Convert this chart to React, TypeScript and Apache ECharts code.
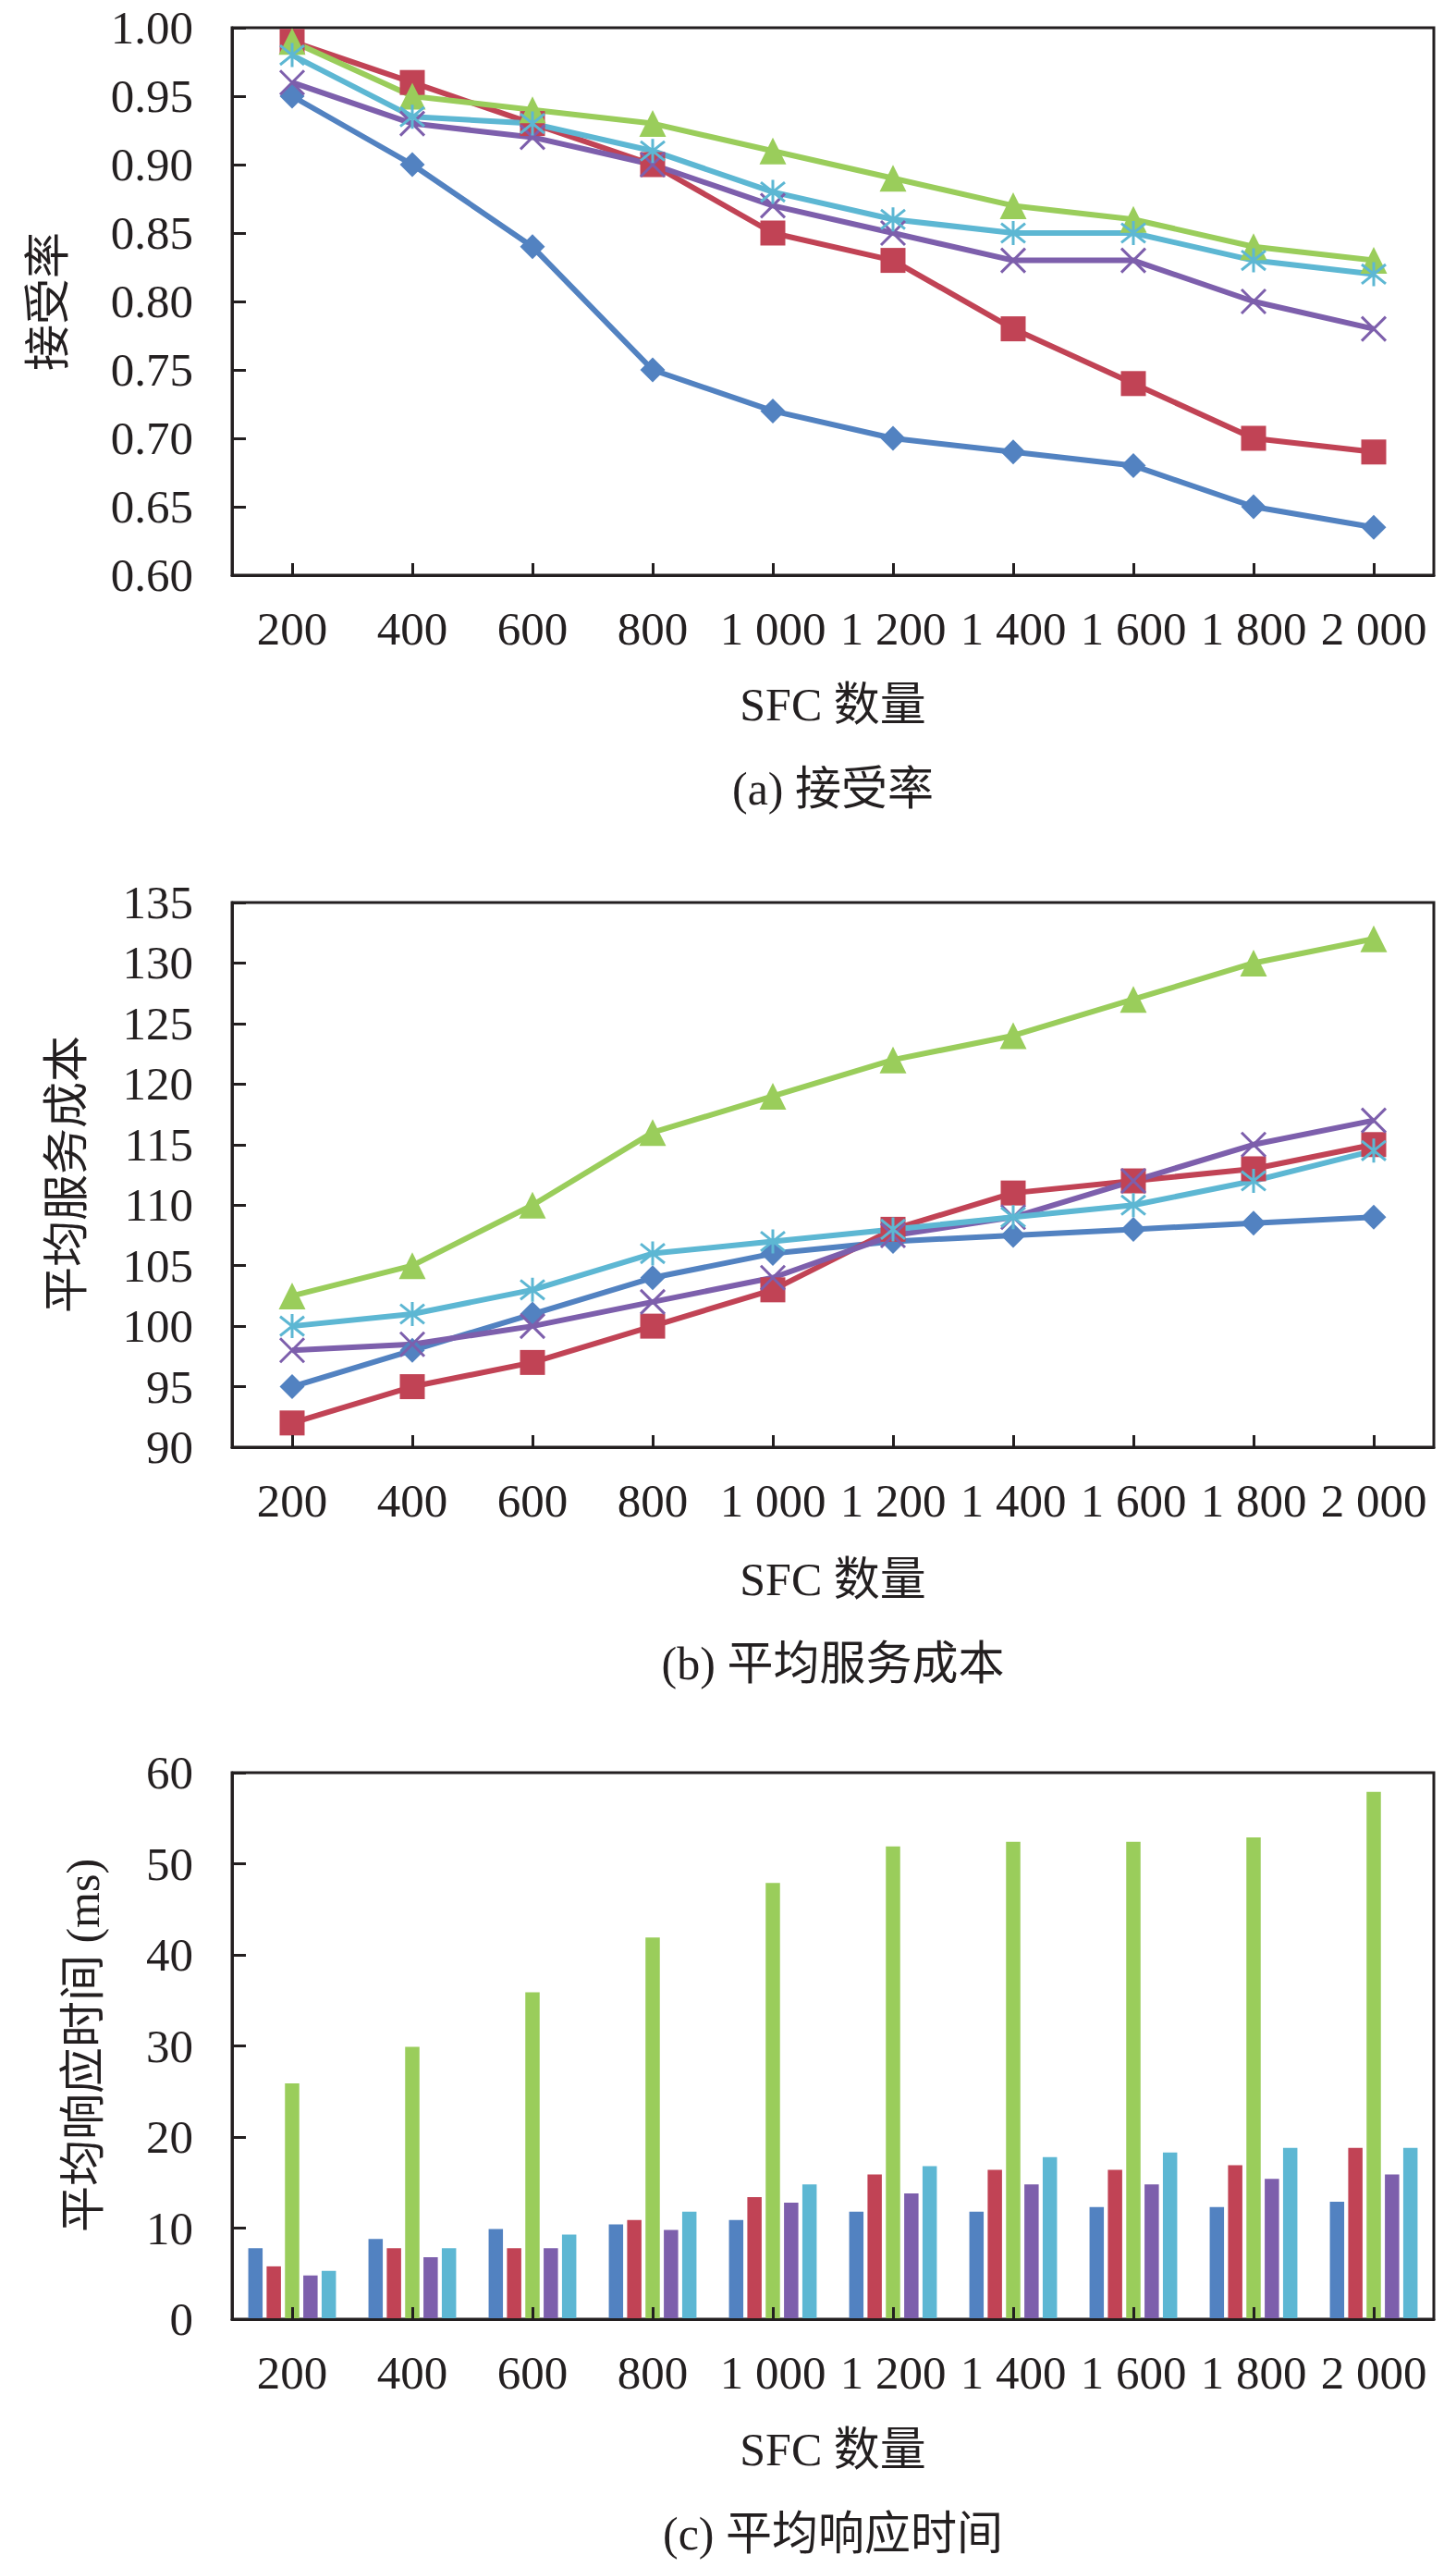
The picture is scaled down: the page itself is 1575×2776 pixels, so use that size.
import React, { useEffect, useRef } from "react";
import * as echarts from "echarts";

const categories = ["200", "400", "600", "800", "1 000", "1 200", "1 400", "1 600", "1 800", "2 000"];

const seriesNames = ["算法1", "算法2", "算法3", "算法4", "算法5"];
const colors = ["#5282c1", "#c14355", "#9acd5b", "#7d5fac", "#5db7d3"];

const accBlue = [0.95, 0.9, 0.84, 0.75, 0.72, 0.7, 0.69, 0.68, 0.65, 0.635];
const accRed = [0.99, 0.96, 0.93, 0.9, 0.85, 0.83, 0.78, 0.74, 0.7, 0.69];
const accGreen = [0.99, 0.95, 0.94, 0.93, 0.91, 0.89, 0.87, 0.86, 0.84, 0.83];
const accPurple = [0.96, 0.93, 0.92, 0.9, 0.87, 0.85, 0.83, 0.83, 0.8, 0.78];
const accCyan = [0.98, 0.935, 0.93, 0.91, 0.88, 0.86, 0.85, 0.85, 0.83, 0.82];

const costBlue = [95, 98, 101, 104, 106, 107, 107.5, 108, 108.5, 109];
const costRed = [92, 95, 97, 100, 103, 108, 111, 112, 113, 115];
const costGreen = [102.5, 105, 110, 116, 119, 122, 124, 127, 130, 132];
const costPurple = [98, 98.5, 100, 102, 104, 107.5, 109, 112, 115, 117];
const costCyan = [100, 101, 103, 106, 107, 108, 109, 110, 112, 114.5];

const rtBlue = [7.8, 8.8, 9.9, 10.4, 10.9, 11.8, 11.8, 12.3, 12.3, 12.9];
const rtRed = [5.8, 7.8, 7.8, 10.9, 13.4, 15.9, 16.4, 16.4, 16.9, 18.8];
const rtGreen = [25.9, 29.9, 35.9, 41.9, 47.9, 51.9, 52.4, 52.4, 52.9, 57.9];
const rtPurple = [4.8, 6.8, 7.8, 9.8, 12.8, 13.8, 14.8, 14.8, 15.4, 15.9];
const rtCyan = [5.3, 7.8, 9.3, 11.8, 14.8, 16.8, 17.8, 18.3, 18.8, 18.8];

const xTitle = "SFC 数量";
const captions = ["(a) 接受率", "(b) 平均服务成本", "(c) 平均响应时间"];
const yTitles = ["接受率", "平均服务成本", "平均响应时间 (ms)"];

const TEXT = "#231f20";
const FONT = "'Liberation Serif', 'Noto Sans CJK SC', serif";

const symX = "path://M0,0L10,10M10,0L0,10";
const symStar = "path://M5,0L5,10M1,1L9,9M9,1L1,9";

const symbols = ["diamond", "rect", "triangle", symX, symStar];
const symbolSizes = [27, 27, 29, 26, 26];

export default function App() {
  const ref = useRef<HTMLDivElement>(null);

  useEffect(() => {
    if (!ref.current) return;
    const chart = echarts.init(ref.current, undefined, { renderer: "svg" });

    const gridTops = [30, 976, 1917];
    const gridHeights = [592, 589, 591];
    const grids = gridTops.map((t, i) => ({
      left: 251,
      top: t,
      width: 1300,
      height: gridHeights[i],
      show: true,
      borderColor: TEXT,
      borderWidth: 3,
      backgroundColor: "transparent",
    }));

    const xAxes = [0, 1, 2].map((i) => ({
      type: "category",
      gridIndex: i,
      data: categories,
      boundaryGap: true,
      z: 5,
      axisLine: { show: true, lineStyle: { color: TEXT, width: 3 } },
      axisTick: { show: true, inside: true, alignWithLabel: true, length: 13, lineStyle: { color: TEXT, width: 3 } },
      axisLabel: { interval: 0, margin: 32, fontSize: 51, fontFamily: FONT, color: TEXT },
      splitLine: { show: false },
    }));

    const yRanges = [
      { min: 0.6, max: 1.0, interval: 0.05, fmt: (v: number) => v.toFixed(2) },
      { min: 90, max: 135, interval: 5, fmt: (v: number) => String(Math.round(v)) },
      { min: 0, max: 60, interval: 10, fmt: (v: number) => String(Math.round(v)) },
    ];
    const yAxes = yRanges.map((r, i) => ({
      type: "value",
      gridIndex: i,
      min: r.min,
      max: r.max,
      interval: r.interval,
      z: 5,
      axisLine: { show: true, lineStyle: { color: TEXT, width: 3 } },
      axisTick: { show: true, inside: true, length: 15, lineStyle: { color: TEXT, width: 3 } },
      axisLabel: { margin: 42, fontSize: 51, fontFamily: FONT, color: TEXT, formatter: r.fmt },
      splitLine: { show: false },
    }));

    const lineSeries = (data: number[][], gi: number) =>
      data.map((d, k) => ({
        type: "line",
        name: seriesNames[k],
        xAxisIndex: gi,
        yAxisIndex: gi,
        data: d,
        symbol: symbols[k],
        symbolSize: symbolSizes[k],
        showAllSymbol: true,
        lineStyle: { color: colors[k], width: 6 },
        itemStyle:
          k >= 3
            ? { color: colors[k], borderColor: colors[k], borderWidth: 3 }
            : { color: colors[k], borderWidth: 0 },
        emphasis: { disabled: true },
      }));

    const barData = [rtBlue, rtRed, rtGreen, rtPurple, rtCyan];
    const barSeries = barData.map((d, k) => ({
      type: "bar",
      name: seriesNames[k],
      xAxisIndex: 2,
      yAxisIndex: 2,
      data: d,
      barWidth: 15.5,
      barGap: "28%",
      itemStyle: { color: colors[k] },
      emphasis: { disabled: true },
    }));

    const centerX = 901;
    const sfcY = [762, 1708, 2649];
    const capY = [853, 1799, 2740];
    const yTitleX = [52, 72, 90];
    const yTitleY = [326, 1270, 2212];

    const graphics: any[] = [];
    for (let i = 0; i < 3; i++) {
      graphics.push({
        type: "text",
        x: centerX,
        y: sfcY[i],
        style: { text: xTitle, font: `50px ${FONT}`, fill: TEXT, textAlign: "center", textVerticalAlign: "middle" },
      });
      graphics.push({
        type: "text",
        x: centerX,
        y: capY[i],
        style: { text: captions[i], font: `50px ${FONT}`, fill: TEXT, textAlign: "center", textVerticalAlign: "middle" },
      });
      graphics.push({
        type: "text",
        x: yTitleX[i],
        y: yTitleY[i],
        rotation: Math.PI / 2,
        style: { text: yTitles[i], font: `50px ${FONT}`, fill: TEXT, textAlign: "center", textVerticalAlign: "middle" },
      });
    }

    chart.setOption({
      animation: false,
      backgroundColor: "#ffffff",
      grid: grids,
      xAxis: xAxes,
      yAxis: yAxes,
      series: [
        ...lineSeries([accBlue, accRed, accGreen, accPurple, accCyan], 0),
        ...lineSeries([costBlue, costRed, costGreen, costPurple, costCyan], 1),
        ...barSeries,
      ],
      graphic: graphics,
    });

    return () => chart.dispose();
  }, []);

  return (
    <div
      ref={ref}
      style={{ position: "absolute", left: 0, top: 0, width: 1575, height: 2776, background: "#fff" }}
    />
  );
}
